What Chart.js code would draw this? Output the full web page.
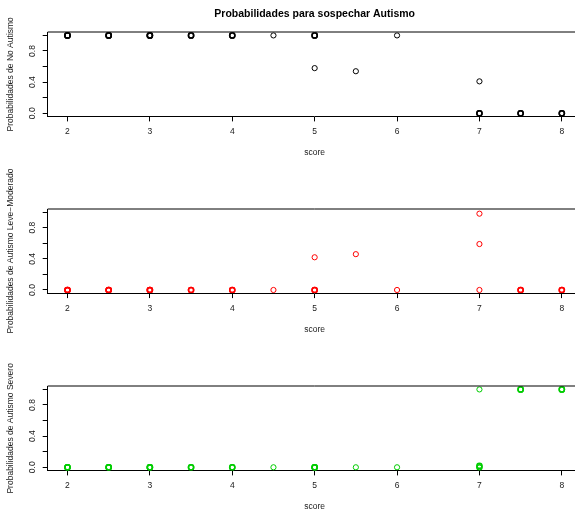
<!DOCTYPE html>
<html><head><meta charset="utf-8">
<script src="https://cdn.jsdelivr.net/npm/chart.js@4"></script>
<style>
html,body{margin:0;padding:0;background:#fff;width:575px;height:510px;overflow:hidden;position:relative}
canvas{position:absolute;left:0}
</style></head><body>
<canvas id="c0" width="630" height="190" style="top:0px;width:630px;height:190px"></canvas>
<canvas id="c1" width="630" height="190" style="top:160px;width:630px;height:190px"></canvas>
<canvas id="c2" width="630" height="190" style="top:337px;width:630px;height:190px"></canvas>
<script>
// ---- data ----
const score         = [2,2,2, 2.5,2.5,2.5, 3,3,3, 3.5,3.5, 4,4, 4.5, 5,5,5, 5.5, 6, 7,7,7, 7.5,7.5, 8,8];
const pNoAutismo    = [1,1,1, 1,1,1, 1,1,1, 1,1, 1,1, 1, 1,1,0.58, 0.54, 1, 0.41,0,0, 0,0, 0,0];
const pLeveModerado = [0,0,0, 0,0,0, 0,0,0, 0,0, 0,0, 0, 0,0,0.42, 0.46, 0, 0.59,0.98,0, 0,0, 0,0];
const pSevero       = [0,0,0, 0,0,0, 0,0,0, 0,0, 0,0, 0, 0,0,0, 0, 0, 0,0.02,1, 1,1, 1,1];
const xTicks = [2,3,4,5,6,7,8];
const yTicks = [0,0.2,0.4,0.6,0.8,1];
const yTickLabels = ['0.0','','0.4','','0.8',''];
const mainTitle = 'Probabilidades para sospechar Autismo';
const xTitle = 'score';
const yTitles = ['Probabilidades de No Autismo','Probabilidades de Autismo Leve\u2212Moderado','Probabilidades de Autismo Severo'];
const seriesValues = [pNoAutismo, pLeveModerado, pSevero];
const seriesColors = ['#000000','#FF0000','#00CD00'];

// ---- layout ----
const FONT = 'Liberation Sans, Arial, Helvetica, sans-serif';
const TEXT = '#1a1a1a';
const H = 190, PLOT_H = 84.1, LEFT = 47.7;
const chartTops = [32.3, 49, 49.3];

const boxPlugin = {
  id: 'rbox',
  afterDraw(chart) {
    const {ctx, chartArea: a} = chart;
    ctx.save();
    ctx.strokeStyle = '#000';
    ctx.lineWidth = 1;
    const y = Math.round(a.top);
    ctx.beginPath();
    ctx.moveTo(a.left, y); ctx.lineTo(a.right, y);
    ctx.moveTo(a.right, y); ctx.lineTo(a.right, a.bottom);
    ctx.stroke();
    ctx.restore();
  }
};

function dupWidth(c) {
  const ds = c.dataset && c.dataset.data;
  if (!ds || c.dataIndex === undefined) return 1;
  const p = ds[c.dataIndex];
  let n = 0;
  for (const q of ds) if (q.x === p.x && Math.abs(q.y - p.y) < 0.03) n++;
  return n > 1 ? 1.5 : 1;
}

for (let i = 0; i < 3; i++) {
  const top = chartTops[i];
  const bottom = top + PLOT_H;
  const xH = H - bottom;
  const titleLH = 8.5 * 1.2;
  const xTitlePadBottom = H - (bottom + 36.3) - titleLH / 2;
  const data = score.map((x, k) => ({x, y: seriesValues[i][k]}));
  new Chart(document.getElementById('c' + i), {
    type: 'scatter',
    data: { datasets: [{
      data,
      borderColor: seriesColors[i],
      backgroundColor: 'rgba(0,0,0,0)',
      pointStyle: 'circle',
      pointRadius: 2.6,
      pointBorderWidth: dupWidth,
      pointHoverRadius: 2.6
    }]},
    options: {
      responsive: false,
      animation: false,
      events: [],
      devicePixelRatio: 1,
      layout: { padding: { left: 0, right: 630 - 581.6, top: i === 0 ? 0 : top, bottom: 0 } },
      plugins: {
        legend: { display: false },
        tooltip: { enabled: false },
        title: {
          display: i === 0,
          text: mainTitle,
          fullSize: false,
          color: '#000',
          font: { family: FONT, size: 10.5, weight: 'bold' },
          padding: { top: 7.5, bottom: 12.2 }
        }
      },
      scales: {
        x: {
          type: 'linear',
          min: 1.76, max: 8.24,
          afterBuildTicks: s => { s.ticks = xTicks.map(v => ({value: v})); },
          afterFit: s => { s.height = xH; },
          ticks: { autoSkip: false, maxRotation: 0, color: TEXT, padding: 5,
                   font: { family: FONT, size: 8.5 }, callback: v => String(v) },
          grid: { display: true, drawOnChartArea: false, drawTicks: true, tickLength: 5, color: '#000', lineWidth: 1 },
          border: { display: true, color: '#000', width: 1 },
          title: { display: true, text: xTitle, color: TEXT, font: { family: FONT, size: 8.5 },
                   padding: { top: 0, bottom: xTitlePadBottom } }
        },
        y: {
          type: 'linear',
          min: -0.04, max: 1.04,
          afterBuildTicks: s => { s.ticks = yTicks.map(v => ({value: v})); },
          afterFit: s => { s.width = LEFT; },
          ticks: { autoSkip: false, minRotation: 90, maxRotation: 90, crossAlign: 'center', padding: 4,
                   color: TEXT, font: { family: FONT, size: 8.5 },
                   callback: (v, idx) => yTickLabels[idx] },
          grid: { display: true, drawOnChartArea: false, drawTicks: true, tickLength: 5, color: '#000', lineWidth: 1 },
          border: { display: true, color: '#000', width: 1 },
          title: { display: true, text: yTitles[i], color: TEXT, font: { family: FONT, size: 8.5 },
                   padding: { top: 5.4, bottom: 0 } }
        }
      }
    },
    plugins: [boxPlugin]
  });
}
</script>
</body></html>
